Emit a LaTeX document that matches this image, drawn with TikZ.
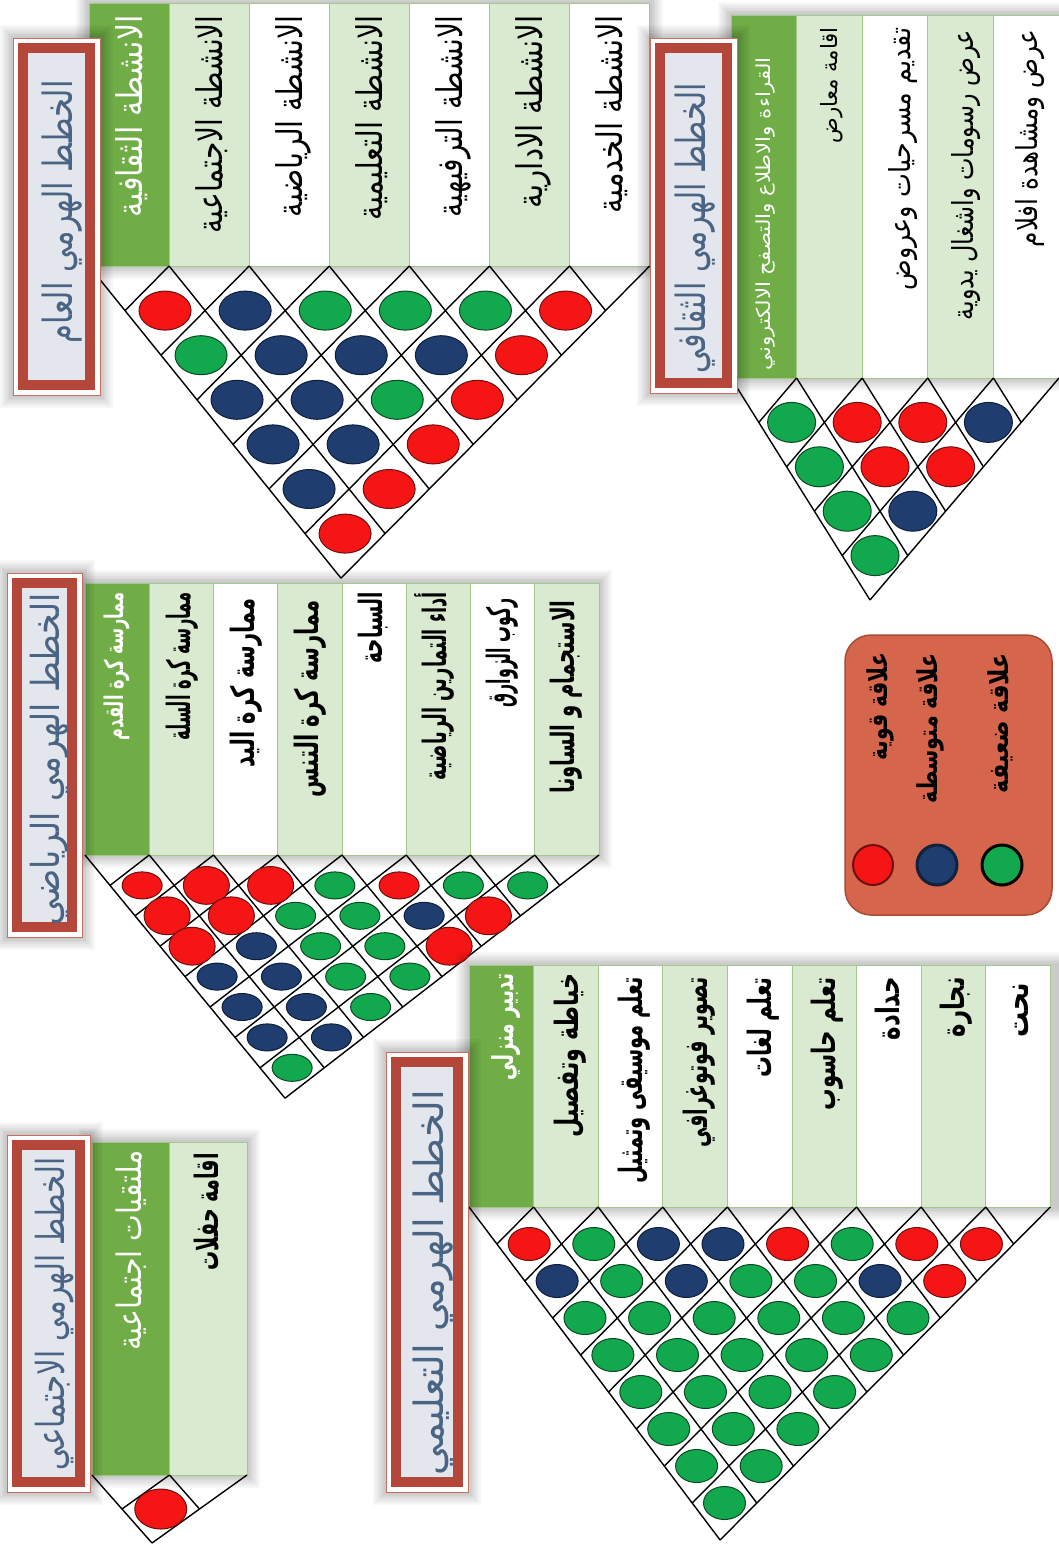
\documentclass[tikz,border=0pt]{standalone}
\usepackage{fontspec}
\usepackage{graphicx}
\newfontfamily\arabicfont[Script=Arabic]{DejaVu Sans}
\TeXXeTstate=1
\definecolor{dgc}{HTML}{70AD47}
\definecolor{lgc}{HTML}{D9EAD0}
\definecolor{colb}{HTML}{A3C98A}
\definecolor{tred}{HTML}{B5473A}
\definecolor{toutl}{HTML}{C7705F}
\definecolor{tfill}{HTML}{E4E6EE}
\definecolor{ttext}{HTML}{4A6483}
\definecolor{legf}{HTML}{D6664B}
\definecolor{legd}{HTML}{A84B38}
\definecolor{cfr}{HTML}{F51515}\definecolor{cdr}{HTML}{6E0E0E}
\definecolor{cfR}{HTML}{F51515}\definecolor{cdR}{HTML}{6E0E0E}
\definecolor{cfb}{HTML}{1F3D6E}\definecolor{cdb}{HTML}{0E1E3A}
\definecolor{cfg}{HTML}{12A84E}\definecolor{cdg}{HTML}{0A4A22}
\tikzset{
  roofline/.style={line width=1.4pt, draw=black},
  colborder/.style={draw=colb, line width=0.8pt},
}
% rotated text: name, x, ytop, length, band height, colour, text
\newcommand\myvt[7]{%
  \node[rotate=90, anchor=east, inner sep=0pt, text=#6] (#1) at (#2,#3)
    {\resizebox*{#4pt}{#5pt}{\arabicfont\vphantom{ألجيع}#7}};}
% soft shadow: x1,y1,x2,y2
\newcommand\myshadow[4]{%
  \foreach \s in {1,...,7} {
    \fill[black, opacity=0.03] ({#1-\s*1.8},{#2-\s*1.8}) rectangle ({#3+\s*1.8},{#4+\s*1.8});
  }}
% header columns: x0, w, ytop, ybot, colours
\newcommand\mycols[5]{%
  \foreach \cc [count=\k from 0] in {#5} {
    \pgfmathsetmacro\xa{#1+\k*#2}
    \pgfmathsetmacro\xb{#1+(\k+1)*#2}
    \draw[colborder, fill=\cc] (\xa,#3) rectangle (\xb,#4);
  }}
% roof lattice: x0, ytop, w, n, ax, h
\newcommand\myroof[6]{%
  \pgfmathsetmacro\rbx{#3-#5}
  \foreach \k in {0,...,#4}{
    \pgfmathsetmacro\rxx{#1+\k*#3}
    \pgfmathsetmacro\rla{(#4-\k)*#5}
    \pgfmathsetmacro\rlah{(#4-\k)*#6}
    \pgfmathsetmacro\rlb{-\k*\rbx}
    \pgfmathsetmacro\rlbh{\k*#6}
    \draw[roofline] (\rxx,#2) -- ++(\rla,\rlah);
    \draw[roofline] (\rxx,#2) -- ++(\rlb,\rlbh);
  }}
% cells: x0, ytop, w, ax, h, rx, ry, rows
\newcommand\mycells[8]{%
  \foreach \row [count=\rowd] in {#8} {
    \foreach \ccol [count=\ii from 0] in \row {
      \def\scx{1}\def\scy{1}%
      \if R\ccol\def\scx{1.15}\def\scy{1.4}\fi
      \pgfmathsetmacro\cx{#1+(\ii+0.5)*#3+\rowd*#4}
      \pgfmathsetmacro\cy{#2+\rowd*#5}
      \draw[line width=1pt, draw=cd\ccol, fill=cf\ccol] (\cx,\cy) ellipse [x radius=\scx*#6, y radius=\scy*#7];
    }
  }}
% title frame: x1,y1,x2,y2
\newcommand\mytitle[4]{%
  \myshadow{#1}{#2}{#3}{#4}
  \draw[line width=1pt, draw=toutl, fill=white] (#1,#2) rectangle (#3,#4);
  \draw[line width=10pt, draw=tred, fill=tfill] ({#1+10},{#2+10}) rectangle ({#3-10},{#4-10});}
\begin{document}
\begin{tikzpicture}[x=1pt,y=-1pt]
\fill[white] (0,0) rectangle (1059,1547);
\useasboundingbox (0,0) rectangle (1059,1547);

% ===== General =====
\myshadow{89}{3}{650}{266}
\mycols{89}{80.1}{3}{266}{dgc,lgc,white,lgc,white,lgc,white}
\myroof{89}{266}{80.1}{7}{36}{44.6}
\mycells{89}{266}{80.1}{36}{44.6}{26}{19.5}{{r,b,g,g,g,r},{g,b,b,b,r},{b,b,g,r},{b,b,r},{b,r},{r}}
\mytitle{13}{38}{100}{395}
\myvt{tg}{57}{80}{263}{50}{ttext}{\beginR الخطط الهرمي العام\endR}
\myvt{g0}{129}{15}{202}{44}{white}{\beginR الانشطة الثقافية\endR}
\myvt{g1}{209}{15}{218}{44}{black}{\beginR الانشطة الاجتماعية\endR}
\myvt{g2}{289}{15}{202}{44}{black}{\beginR الانشطة الرياضية\endR}
\myvt{g3}{369}{15}{205}{44}{black}{\beginR الانشطة التعليمية\endR}
\myvt{g4}{449}{15}{202}{44}{black}{\beginR الانشطة الترفيهية\endR}
\myvt{g5}{529}{15}{193}{44}{black}{\beginR الانشطة الادارية\endR}
\myvt{g6}{609}{15}{198}{44}{black}{\beginR الانشطة الخدمية\endR}

% ===== Cultural =====
\myshadow{731}{15}{1059}{378}
\mycols{731}{65.6}{15}{378}{dgc,lgc,white,lgc,white}
\myroof{731}{378}{65.6}{5}{27.8}{44.4}
\mycells{731}{378}{65.6}{27.8}{44.4}{24}{20}{{g,r,r,b},{g,r,r},{g,b},{g}}
\mytitle{650}{38}{737}{393}
\myvt{tc}{690}{83}{290}{50}{ttext}{\beginR الخطط الهرمي الثقافي\endR}
\myvt{c0}{763}{57}{313}{24}{white}{\beginR القراءة والاطلاع والتصفح الالكتروني\endR}
\myvt{c1}{829}{27}{116}{28}{black}{\beginR اقامة معارض\endR}
\myvt{c2}{900}{27}{263}{36}{black}{\beginR تقديم مسرحيات وعروض\endR}
\myvt{c3}{963}{30}{290}{36}{black}{\beginR عرض رسومات واشغال يدوية\endR}
\myvt{c4}{1027}{30}{217}{36}{black}{\beginR عرض ومشاهدة افلام\endR}

% ===== Sports =====
\myshadow{85}{583}{599}{855}
\mycols{85}{64.25}{583}{855}{dgc,lgc,white,lgc,white,lgc,white,lgc}
\myroof{85}{855}{64.25}{8}{25}{30.4}
\mycells{85}{855}{64.25}{25}{30.4}{20}{13.5}{{r,R,R,g,r,g,g},{R,R,g,g,b,R},{R,b,g,g,R},{b,b,g,g},{b,b,g},{b,b},{g}}
\mytitle{7}{573}{82}{937}
\myvt{ts}{45}{593}{332}{48}{ttext}{\beginR الخطط الهرمي الرياضي\endR}
\myvt{s0}{114}{592}{148}{32}{white}{\bfseries\beginR ممارسة كرة القدم\endR}
\myvt{s1}{178}{592}{148}{40}{black}{\bfseries\beginR ممارسة كرة السلة\endR}
\myvt{s2}{242}{598}{169}{40}{black}{\bfseries\beginR ممارسة كرة اليد\endR}
\myvt{s3}{306}{600}{197}{40}{black}{\bfseries\beginR ممارسة كرة التنس\endR}
\myvt{s4}{370}{592}{71}{40}{black}{\bfseries\beginR السباحة\endR}
\myvt{s5}{434}{592}{188}{40}{black}{\bfseries\beginR أداء التمارين الرياضية\endR}
\myvt{s6}{498}{598}{109}{40}{black}{\bfseries\beginR ركوب الزوارق\endR}
\myvt{s7}{562}{600}{193}{40}{black}{\bfseries\beginR الاستجمام و الساونا\endR}

% ===== Educational =====
\myshadow{469}{965}{1059}{1207}
\mycols{469}{64.6}{965}{1207}{dgc,lgc,white,lgc,white,lgc,white,lgc,white}
\myroof{469}{1207}{64.6}{9}{27.9}{37}
\mycells{469}{1207}{64.6}{27.9}{37}{21}{16.5}{{r,g,b,b,r,g,r,r},{b,g,b,g,g,b,r},{g,g,g,g,g,g},{g,g,g,g,g},{g,g,g,g},{g,g,g},{g,g},{g}}
\mytitle{386}{1052}{468}{1492}
\myvt{te}{428}{1090}{385}{50}{ttext}{\beginR الخطط الهرمي التعليمي\endR}
\myvt{e0}{503}{973}{107}{36}{white}{\bfseries\beginR تدبير منزلي\endR}
\myvt{e1}{566}{973}{164}{40}{black}{\bfseries\beginR خياطة وتفصيل\endR}
\myvt{e2}{630}{977}{206}{40}{black}{\bfseries\beginR تعلم موسيقى وتمثيل\endR}
\myvt{e3}{695}{977}{170}{40}{black}{\bfseries\beginR تصوير فوتوغرافي\endR}
\myvt{e4}{759}{977}{100}{40}{black}{\bfseries\beginR تعلم لغات\endR}
\myvt{e5}{823}{977}{133}{40}{black}{\bfseries\beginR تعلم حاسوب\endR}
\myvt{e6}{887}{977}{63}{40}{black}{\bfseries\beginR حدادة\endR}
\myvt{e7}{952}{977}{60}{40}{black}{\bfseries\beginR نجارة\endR}
\myvt{e8}{1016}{983}{54}{40}{black}{\bfseries\beginR نحت\endR}

% ===== Social =====
\myshadow{92}{1142}{247}{1475}
\mycols{92}{77.5}{1142}{1475}{dgc,lgc}
\myroof{92}{1475}{77.5}{2}{30}{34}
\mycells{92}{1475}{77.5}{30}{34}{26}{20}{{r}}
\mytitle{7}{1135}{90}{1492}
\myvt{to}{50}{1157}{313}{48}{ttext}{\beginR الخطط الهرمي الاجتماعي\endR}
\myvt{o0}{129}{1150}{200}{42}{white}{\beginR ملتقيات اجتماعية\endR}
\myvt{o1}{206}{1153}{117}{40}{black}{\bfseries\beginR اقامة حفلات\endR}

% ===== Legend =====
\draw[line width=1.5pt, draw=legd, fill=legf, rounded corners=26pt] (845,635) rectangle (1052,915);
\myvt{l1}{877}{653}{107}{34}{black}{\bfseries\beginR علاقة قوية\endR}
\myvt{l2}{927}{653}{150}{34}{black}{\bfseries\beginR علاقة متوسطة\endR}
\myvt{l3}{998}{653}{140}{34}{black}{\bfseries\beginR علاقة ضعيفة\endR}
\draw[line width=2pt, draw=cdr, fill=cfr] (873,865) circle [radius=20];
\draw[line width=3pt, draw=black!45!cfb, fill=cfb] (937,865) circle [radius=20];
\draw[line width=3pt, draw=black, fill=cfg] (1002,865) circle [radius=20];
\end{tikzpicture}
\end{document}
